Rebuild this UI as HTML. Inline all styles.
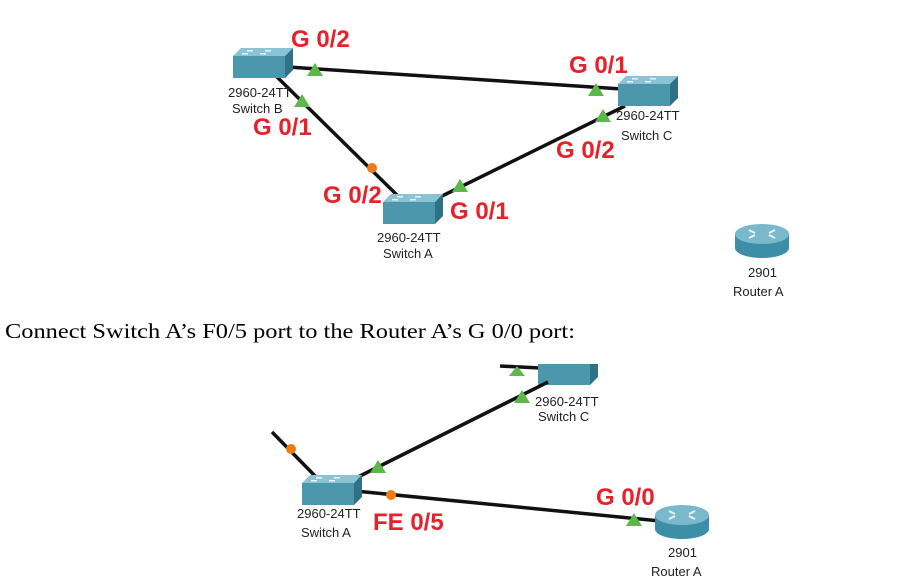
<!DOCTYPE html>
<html><head><meta charset="utf-8"><style>
html,body{margin:0;padding:0;background:#fff;width:897px;height:583px;overflow:hidden}
.r{font-family:"Liberation Sans Narrow","Liberation Sans",sans-serif;font-weight:bold;fill:#e8202a;font-size:24px}
.l{font-family:"Liberation Sans",sans-serif;fill:#222;font-size:13px}
</style></head><body>
<svg width="897" height="583" xmlns="http://www.w3.org/2000/svg">
<defs>
<g id="sw">
<polygon points="0,8 8,0 60,0 52,8" fill="#8cc3d4"/>
<polygon points="52,8 60,0 60,22 52,30" fill="#2f7287"/>
<rect x="0" y="8" width="52" height="22" fill="#4d97ad"/>
<g fill="#e8f4f8"><rect x="14" y="2" width="6" height="1.5"/><rect x="32" y="2" width="6" height="1.5"/><rect x="9" y="5" width="6" height="1.5"/><rect x="27" y="5" width="6" height="1.5"/></g>
</g>
<g id="rt">
<path d="M0,10 L0,24 A27,10 0 0 0 54,24 L54,10 Z" fill="#3d8fa8"/>
<ellipse cx="27" cy="10" rx="27" ry="10" fill="#7ab8cc"/>
<g stroke="#e8f4f8" stroke-width="2" fill="none"><path d="M14,6 l6,3"/><path d="M40,6 l-6,3"/><path d="M14,14 l6,-3"/><path d="M40,14 l-6,-3"/></g>
</g>
<clipPath id="bc"><rect x="0" y="364" width="897" height="220"/></clipPath>
</defs>
<g stroke="#111" stroke-width="3.5">
<line x1="288" y1="67" x2="622" y2="89"/>
<line x1="276" y1="76" x2="400" y2="198"/>
<line x1="438" y1="198" x2="625" y2="106"/>
</g>
<use href="#sw" x="233" y="48"/>
<use href="#sw" x="618" y="76"/>
<use href="#sw" x="383" y="194"/>
<use href="#rt" x="735" y="224"/>
<g fill="#5cb84a">
<polygon points="315,63 307,76 323,76"/>
<polygon points="596,83 588,96 604,96"/>
<polygon points="302,94 294,107 310,107"/>
<polygon points="603,109 595,122 611,122"/>
<polygon points="460,179 452,192 468,192"/>
</g>
<circle cx="372" cy="168" r="5" fill="#f07b14"/>
<text class="r" x="291" y="47">G 0/2</text>
<text class="r" x="569" y="73">G 0/1</text>
<text class="r" x="253" y="135">G 0/1</text>
<text class="r" x="556" y="158">G 0/2</text>
<text class="r" x="323" y="203">G 0/2</text>
<text class="r" x="450" y="219">G 0/1</text>
<text class="l" x="228" y="97">2960-24TT</text>
<text class="l" x="232" y="113">Switch B</text>
<text class="l" x="616" y="120">2960-24TT</text>
<text class="l" x="621" y="140">Switch C</text>
<text class="l" x="377" y="242">2960-24TT</text>
<text class="l" x="383" y="258">Switch A</text>
<text class="l" x="748" y="277">2901</text>
<text class="l" x="733" y="296">Router A</text>
<text x="5" y="338" font-family="Liberation Serif,serif" font-size="21" fill="#000" textLength="570" lengthAdjust="spacingAndGlyphs">Connect Switch A’s F0/5 port to the Router A’s G 0/0 port:</text>
<g clip-path="url(#bc)">
<line x1="500" y1="366" x2="540" y2="368" stroke="#111" stroke-width="3.5"/>
<use href="#sw" x="538" y="355"/>
<polygon points="517,366 509,376 525,376" fill="#5cb84a"/>
</g>
<g stroke="#111" stroke-width="3.5">
<line x1="272" y1="432" x2="318" y2="479"/>
<line x1="356" y1="478" x2="548" y2="382"/>
<line x1="355" y1="491" x2="660" y2="521"/>
</g>
<use href="#sw" x="302" y="475"/>
<use href="#rt" x="655" y="505"/>
<g fill="#5cb84a">
<polygon points="522,390 514,403 530,403"/>
<polygon points="378,460 370,473 386,473"/>
<polygon points="634,513 626,526 642,526"/>
</g>
<circle cx="291" cy="449" r="5" fill="#f07b14"/>
<circle cx="391" cy="495" r="5" fill="#f07b14"/>
<text class="r" x="596" y="505">G 0/0</text>
<text class="r" x="373" y="530">FE 0/5</text>
<text class="l" x="535" y="406">2960-24TT</text>
<text class="l" x="538" y="421">Switch C</text>
<text class="l" x="297" y="518">2960-24TT</text>
<text class="l" x="301" y="537">Switch A</text>
<text class="l" x="668" y="557">2901</text>
<text class="l" x="651" y="576">Router A</text>
</svg>
</body></html>
